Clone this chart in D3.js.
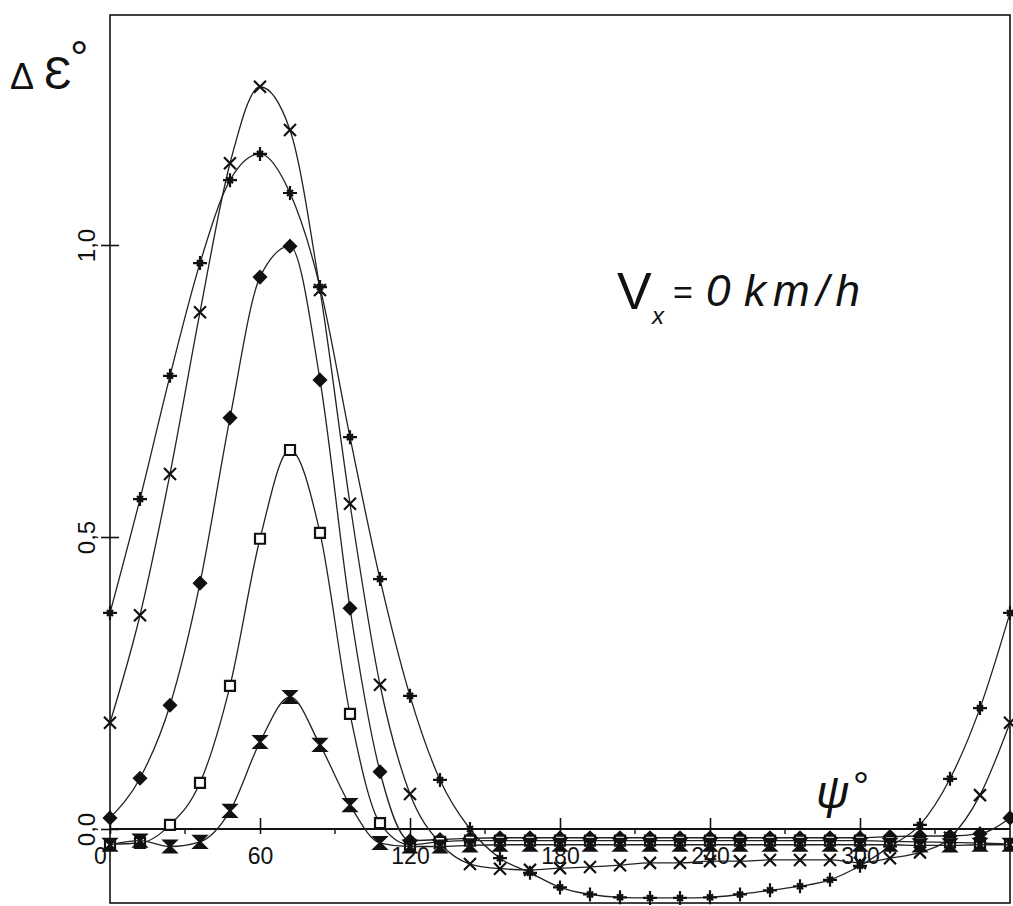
<!DOCTYPE html>
<html>
<head>
<meta charset="utf-8">
<script src="https://cdn.jsdelivr.net/npm/d3@7"></script>
<style>
  html, body { margin: 0; padding: 0; background: #fff; }
  svg { display: block; }
  text { font-family: "Liberation Sans", "DejaVu Sans", sans-serif; fill: #111; }
</style>
</head>
<body>
<svg id="chart" width="1013" height="906"></svg>
<script>
// ---- data (psi in degrees, values of delta epsilon in degrees) ----
const psi = [0,12,24,36,48,60,72,84,96,108,120,132,144,156,168,180,192,204,216,228,240,252,264,276,288,300,312,324,336,348,360];

const seriesX = [0.182,0.366,0.608,0.885,1.140,1.271,1.197,0.923,0.557,0.247,0.060,-0.024,-0.060,-0.068,-0.070,-0.067,-0.065,-0.062,-0.058,-0.058,-0.055,-0.055,-0.053,-0.053,-0.053,-0.058,-0.050,-0.040,-0.015,0.058,0.182];
const seriesPlus = [0.370,0.565,0.776,0.969,1.111,1.156,1.089,0.928,0.671,0.428,0.228,0.084,0.000,-0.050,-0.075,-0.100,-0.112,-0.117,-0.118,-0.118,-0.117,-0.112,-0.105,-0.098,-0.087,-0.063,-0.030,0.007,0.086,0.207,0.370];
const seriesDiamond = [0.019,0.087,0.212,0.421,0.704,0.945,0.998,0.769,0.378,0.098,-0.020,-0.018,-0.016,-0.015,-0.015,-0.015,-0.015,-0.015,-0.015,-0.015,-0.015,-0.015,-0.015,-0.015,-0.015,-0.015,-0.013,-0.012,-0.012,-0.008,0.019];
const seriesSquare = [-0.026,-0.024,0.007,0.079,0.245,0.497,0.649,0.507,0.197,0.010,-0.027,-0.022,-0.020,-0.020,-0.020,-0.020,-0.020,-0.020,-0.020,-0.020,-0.020,-0.020,-0.020,-0.020,-0.020,-0.020,-0.021,-0.022,-0.023,-0.024,-0.026];
const seriesBowtie = [-0.027,-0.020,-0.030,-0.022,0.031,0.149,0.226,0.144,0.041,-0.024,-0.030,-0.030,-0.028,-0.027,-0.027,-0.027,-0.027,-0.027,-0.027,-0.027,-0.027,-0.027,-0.027,-0.027,-0.027,-0.027,-0.027,-0.028,-0.028,-0.027,-0.027];

const xTicks = [0,60,120,180,240,300];
const xTickLabels = ["0","60","120","180","240","300"];
const xMinorTicks = [30,90,150,210,270,330];
const yTicks = [0,0.5,1.0];
const yTickLabels = ["0,0","0,5","1,0"];

// ---- layout ----
const svg = d3.select("#chart");
const pLeft = 110, pRight = 1010, pTop = 15, pBottom = 903;
const x = d3.scaleLinear().domain([0,360]).range([pLeft,pRight]);
const y = d3.scaleLinear().domain([0,1]).range([829,245]);

// frame
svg.append("rect").attr("x",pLeft).attr("y",pTop).attr("width",pRight-pLeft).attr("height",pBottom-pTop)
  .attr("fill","none").attr("stroke","#111").attr("stroke-width",1.6);

// zero line (x axis) with ticks
const xAxis = d3.axisBottom(x).tickValues(xTicks).tickFormat((d,i)=>xTickLabels[i]).tickSizeInner(5).tickSizeOuter(0).tickPadding(14);
const gx = svg.append("g").attr("transform",`translate(0,${y(0)})`).call(xAxis);
gx.select(".domain").attr("stroke","#111").attr("stroke-width",1.8).attr("d",`M${pLeft},0H${pRight}`);
gx.selectAll(".tick line").attr("y1",-11).attr("y2",5).attr("stroke","#111").attr("stroke-width",1.6);
gx.selectAll(".tick text").attr("font-size",23).attr("fill","#111").attr("font-family","Liberation Sans, sans-serif");
gx.selectAll(".tick").filter(d=>d===0).select("text").attr("dx",-10);
svg.append("g").selectAll("line").data(xMinorTicks).join("line")
  .attr("x1",d=>x(d)).attr("x2",d=>x(d)).attr("y1",y(0)).attr("y2",y(0)+5)
  .attr("stroke","#111").attr("stroke-width",1.4);

// y axis ticks
const yAxis = d3.axisLeft(y).tickValues(yTicks).tickFormat((d,i)=>yTickLabels[i]).tickSizeOuter(0).tickSizeInner(8).tickPadding(12);
const gy = svg.append("g").attr("transform",`translate(${pLeft},0)`).call(yAxis);
gy.select(".domain").remove();
gy.selectAll(".tick line").attr("x1",-9).attr("x2",9).attr("stroke","#111").attr("stroke-width",1.6);
gy.selectAll(".tick text")
  .attr("font-size",24).attr("fill","#111")
  .attr("text-anchor","middle").attr("x",0).attr("dy",0)
  .attr("transform","translate(-24,0) rotate(-90)")
  .attr("dominant-baseline","central");

// ---- markers ----
const s = 6;
const markers = {
  x: {path: `M${-s},${-s}L${s},${s}M${-s},${s}L${s},${-s}`, fill:"none"},
  plus: {path: `M${-s-1},0H${s+1}M0,${-s-1}V${s+1}M-3,-3L3,3M-3,3L3,-3`, fill:"none"},
  diamond: {path: `M0,${-s}L${s},0L0,${s}L${-s},0Z`, fill:"#111"},
  square: {path: `M-5,-5H5V5H-5Z`, fill:"#fff"},
  bowtie: {path: `M${-s},${-s}H${s}L${-s},${s}H${s}Z`, fill:"#111"}
};

const series = [
  {name:"x", values: seriesX, marker: markers.x},
  {name:"plus", values: seriesPlus, marker: markers.plus},
  {name:"diamond", values: seriesDiamond, marker: markers.diamond},
  {name:"square", values: seriesSquare, marker: markers.square},
  {name:"bowtie", values: seriesBowtie, marker: markers.bowtie}
];

const line = d3.line().x(d=>x(d[0])).y(d=>y(d[1])).curve(d3.curveMonotoneX);

series.forEach(sr => {
  const pts = psi.map((p,i)=>[p, sr.values[i]]);
  svg.append("path").datum(pts).attr("d",line)
    .attr("fill","none").attr("stroke","#222").attr("stroke-width",1.3);
  svg.append("g").selectAll("path").data(pts).join("path")
    .attr("transform",d=>`translate(${x(d[0])},${y(d[1])})`)
    .attr("d",sr.marker.path)
    .attr("fill",sr.marker.fill)
    .attr("stroke","#111").attr("stroke-width",2.2);
});

// ---- labels ----
svg.append("text").attr("x",10).attr("y",89).attr("font-size",36).attr("font-family","DejaVu Sans, sans-serif").text("Δ");
svg.append("text").attr("x",44).attr("y",89).attr("font-size",46).attr("font-family","DejaVu Sans, sans-serif").text("Ɛ");
svg.append("text").attr("x",70).attr("y",74).attr("font-size",46).attr("font-family","DejaVu Sans, sans-serif").text("°");

svg.append("text").attr("x",617).attr("y",309).attr("font-size",52).attr("font-family","DejaVu Sans, sans-serif").text("V");
svg.append("text").attr("x",652).attr("y",324).attr("font-size",24).attr("font-style","italic").text("x");
svg.append("text").attr("x",673).attr("y",304).attr("font-size",34).text("=");
svg.append("text").attr("x",706).attr("y",306).attr("font-size",44).attr("font-style","italic").text("0");
svg.append("text").attr("x",744).attr("y",306).attr("font-size",44).attr("font-style","italic")
  .attr("textLength",116).attr("lengthAdjust","spacing").text("km/h");

svg.append("text").attr("x",816).attr("y",808).attr("font-size",46).attr("font-style","italic").text("ψ");
svg.append("text").attr("x",853).attr("y",800).attr("font-size",40).attr("font-family","DejaVu Sans, sans-serif").text("°");
</script>
</body>
</html>
